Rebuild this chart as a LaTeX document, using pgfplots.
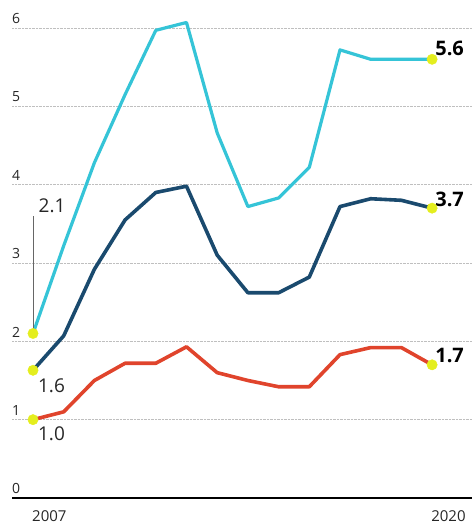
\documentclass[border=0pt]{standalone}
\usepackage{fontspec}
\setmainfont{Open Sans}
\usepackage{pgfplots}
\pgfplotsset{compat=1.18}
\definecolor{cyanl}{HTML}{35C4D7}
\definecolor{navyl}{HTML}{1A4A6E}
\definecolor{redl}{HTML}{E0442C}
\definecolor{yell}{HTML}{E4EE1E}
\definecolor{txt}{HTML}{262626}
\begin{document}
\begin{tikzpicture}[x=1pt,y=1pt]
\useasboundingbox (0,0) rectangle (472,527);
\begin{axis}[
  scale only axis, width=460pt, height=485.7pt,
  at={(12pt,29pt)}, anchor=south west,
  xmin=2006.316, xmax=2021.30, ymin=0, ymax=6.2,
  axis line style={draw=none}, tick style={draw=none},
  ytick={0,1,2,3,4,5,6}, yticklabels={0,1,2,3,4,5,6},
  yticklabel style={anchor=south west, inner sep=0pt, yshift=4pt,
    font=\fontsize{14}{14}\selectfont, text=txt},
  xtick={2007,2020}, xticklabels={2007,2020},
  xticklabel style={anchor=north west, inner sep=0pt, yshift=-12pt, xshift=-1pt,
    font=\fontsize{15}{15}\selectfont, text=txt},
  ymajorgrids, major grid style={gray!50, densely dotted, line width=0.9pt},
  /pgf/number format/assume math mode=true,
  clip=false,
]
\draw[black, line width=1.8pt] (rel axis cs:0,0) -- (rel axis cs:1,0);
% red series
\addplot[redl, line width=3.6pt, line join=round] coordinates {
 (2007,1.00) (2008,1.10) (2009,1.50) (2010,1.72) (2011,1.72) (2012,1.93)
 (2013,1.60) (2014,1.50) (2015,1.42) (2016,1.42) (2017,1.83) (2018,1.92)
 (2019,1.92) (2020,1.70)};
% navy series
\addplot[navyl, line width=3.6pt, line join=round] coordinates {
 (2007,1.63) (2008,2.07) (2009,2.92) (2010,3.55) (2011,3.90) (2012,3.98)
 (2013,3.10) (2014,2.62) (2015,2.62) (2016,2.82) (2017,3.72) (2018,3.82)
 (2019,3.80) (2020,3.70)};
% cyan series
\addplot[cyanl, line width=3.2pt, line join=round] coordinates {
 (2007,2.10) (2008,3.22) (2009,4.28) (2010,5.15) (2011,5.97) (2012,6.07)
 (2013,4.66) (2014,3.72) (2015,3.83) (2016,4.22) (2017,5.72) (2018,5.60)
 (2019,5.60) (2020,5.60)};
\draw[gray!80!black, line width=0.9pt] (axis cs:2007.03,2.15) -- (axis cs:2007.03,3.60);
\node[anchor=south west, inner sep=0pt, text=txt, font=\fontsize{19}{19}\selectfont] at (axis cs:2007.18,3.64) {2.1};
\node[anchor=north west, inner sep=0pt, text=txt, font=\fontsize{19}{19}\selectfont] at (axis cs:2007.16,1.53) {1.6};
\node[anchor=north west, inner sep=0pt, text=txt, font=\fontsize{19}{19}\selectfont] at (axis cs:2007.16,0.91) {1.0};
\addplot[only marks, mark=*, mark size=5.2pt, color=yell] coordinates {
 (2007,2.10) (2007,1.63) (2007,1.00) (2020,5.60) (2020,3.70) (2020,1.70)};
\node[anchor=south west, inner sep=0pt, font=\bfseries\fontsize{20}{20}\selectfont] at (axis cs:2020.1,5.64) {5.6};
\node[anchor=south west, inner sep=0pt, font=\bfseries\fontsize{20}{20}\selectfont] at (axis cs:2020.1,3.72) {3.7};
\node[anchor=south west, inner sep=0pt, font=\bfseries\fontsize{20}{20}\selectfont] at (axis cs:2020.1,1.72) {1.7};
\end{axis}
\end{tikzpicture}
\end{document}
